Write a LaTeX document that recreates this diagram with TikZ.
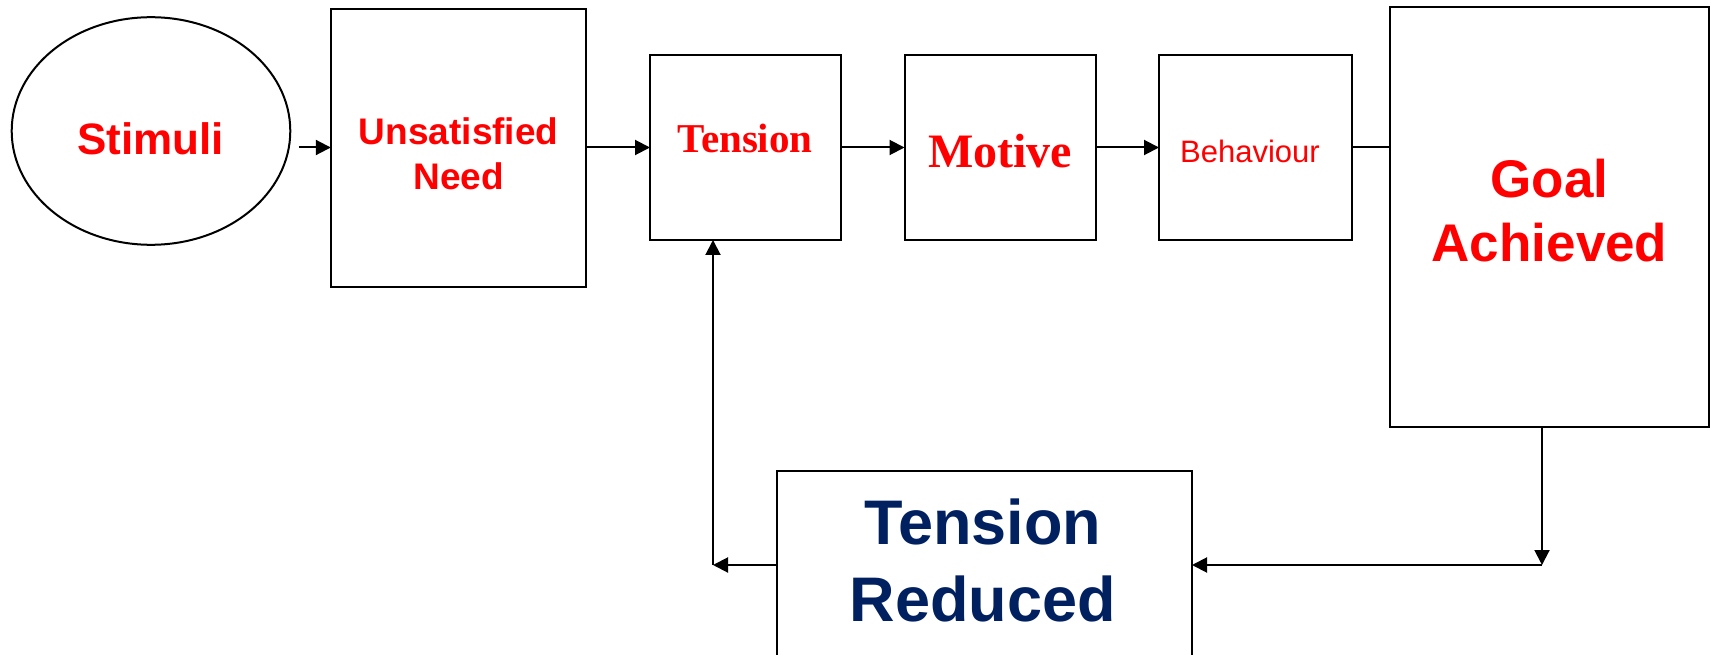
\documentclass[tikz,border=0pt]{standalone}
\usepackage{fontspec}
\setmainfont{Liberation Sans}
\newfontfamily\timesfam{Liberation Serif}
\usetikzlibrary{arrows.meta,shapes.geometric}
\definecolor{hired}{RGB}{255,0,0}
\definecolor{navy}{RGB}{0,32,96}
\newcommand\fsz[1]{\fontsize{#1}{#1}\selectfont}
\begin{document}
\begin{tikzpicture}[x=1pt,y=-1pt,
  box/.style={draw=black, line width=2pt, rectangle, inner sep=0pt, outer sep=0pt},
  flow/.style={line width=2pt, -{Triangle[length=15pt,width=15pt]}},
  plain/.style={line width=2pt},
  lbl/.style={anchor=base, inner sep=0pt, outer sep=0pt, text=hired}]
\clip (0,0) rectangle (1711,655);
\fill[white] (0,0) rectangle (1711,655);

% boxes
\node[box, ellipse, minimum width=278.6pt, minimum height=227.6pt] (stim) at (151,131) {};
\node[box, minimum width=255.5pt, minimum height=277.7pt] (need) at (458.55,147.85) {};
\node[box, minimum width=191pt, minimum height=185pt] (tension) at (745.5,147.5) {};
\node[box, minimum width=191.5pt, minimum height=185pt] (motive) at (1000.25,147.5) {};
\node[box, minimum width=192.5pt, minimum height=185pt] (behav) at (1255.25,147.5) {};
\node[box, minimum width=319pt, minimum height=420pt] (goal) at (1549.5,217) {};
\node[box, minimum width=415.5pt, minimum height=229pt] (tr) at (984.25,585.5) {};

% labels
\node[lbl, font=\bfseries\fsz{44}] (t-stim) at (150.5,155) {Stimuli};
\node[lbl, font=\bfseries\fsz{37}] (t-need1) at (458.7,145) {Unsatisfied};
\node[lbl, font=\bfseries\fsz{37}] (t-need2) at (458.7,190) {Need};
\node[lbl, font=\timesfam\bfseries\fsz{41}] (t-tension) at (745,153) {Tension};
\node[lbl, font=\timesfam\bfseries\fsz{48}] (t-motive) at (1000,168) {Motive};
\node[lbl, font=\fsz{31}] (t-behav) at (1250,163) {Behaviour};
\node[lbl, font=\bfseries\fsz{53}] (t-goal1) at (1549.5,197.5) {Goal};
\node[lbl, font=\bfseries\fsz{53}] (t-goal2) at (1549.5,261.5) {Achieved};
\node[lbl, text=navy, font=\bfseries\fsz{63}] (t-tr1) at (983,544) {Tension};
\node[lbl, text=navy, font=\bfseries\fsz{63}] (t-tr2) at (983,621) {Reduced};

% connectors
\coordinate (s0) at (298.8,147.5);
\coordinate (c1) at (1542,565);
\coordinate (c2) at (713,565);
\draw[flow] (s0) -- (s0 -| need.west);
\draw[flow] (need.east |- tension.west) -- (tension.west);
\draw[flow] (tension.east) -- (motive.west);
\draw[flow] (motive.east) -- (behav.west);
\draw[plain] (behav.east) -- (behav.east -| goal.west);
\draw[flow] (goal.south -| c1) -- (c1);
\draw[flow] (c1) -- (c1 -| tr.east);
\draw[flow] (c2 -| tr.west) -- (c2);
\draw[flow] (c2) -- (c2 |- tension.south);
\end{tikzpicture}
\end{document}
